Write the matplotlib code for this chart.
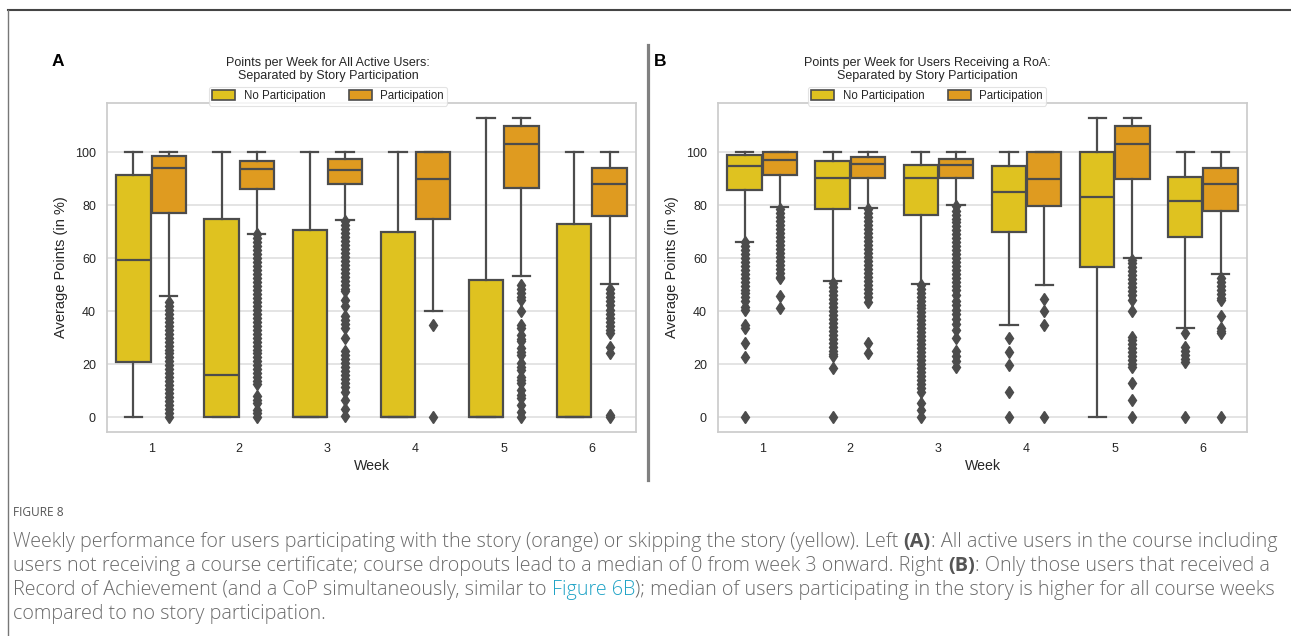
import matplotlib
matplotlib.use("Agg")
import matplotlib.pyplot as plt
from matplotlib.patches import Patch
from matplotlib.lines import Line2D

plt.rcParams['font.family'] = ['Liberation Sans', 'DejaVu Sans']

WEEKS = ["1", "2", "3", "4", "5", "6"]
GROUPS = ["No Participation", "Participation"]

# Panel A: all active users, no story participation
A_NO_LOW = [0, 0, 0, 0, 0, 0]
A_NO_Q1 = [20.9, 0, 0, 0, 0, 0]
A_NO_MED = [59.5, 15.8, 0, 0, 0, 0]
A_NO_Q3 = [91.4, 75.0, 70.5, 69.8, 51.6, 73.0]
A_NO_HIGH = [100, 100, 100, 100, 113, 100]
A_NO_OUT = [[], [], [], [], [], []]

# Panel A: all active users, story participation
A_PA_LOW = [45.6, 69.3, 74.4, 40.0, 53.4, 50.3]
A_PA_Q1 = [76.9, 86.0, 88.1, 75.0, 86.6, 75.9]
A_PA_MED = [94.2, 93.8, 93.4, 89.8, 103.3, 87.9]
A_PA_Q3 = [98.6, 96.7, 97.6, 100, 110.0, 93.9]
A_PA_HIGH = [100, 100, 100, 100, 113, 100]
A_PA_OUT = [
    [43.5, 42, 40.5, 39, 37.5, 36, 34.5, 33, 31.5, 30, 28.5, 27, 25.5, 24, 22.5,
     21, 19.5, 18, 16.5, 15, 13.5, 12, 10.5, 9, 7.5, 6, 4.5, 3, 1.5, 0],
    [69, 67.5, 66, 64.5, 63, 61.5, 60, 58.5, 57, 55.5, 54, 52.5, 51, 49.5, 48,
     46.5, 45, 43.5, 42, 40.5, 39, 37.5, 36, 34.5, 33, 31.5, 30, 28.5, 27, 25.5,
     24, 22.5, 21, 19.5, 18, 16.5, 15, 13.5, 12.5, 7.9, 6.5, 5.3, 2.8, 1.5, 0],
    [74, 72.5, 71, 69.5, 68, 66.5, 65, 63.5, 62, 60.5, 59, 57.5, 56, 54.5, 53,
     51.5, 50, 48.5, 47.5, 44.3, 41.8, 38, 36.5, 35, 33.5, 29.7, 24.8, 23.3,
     21.8, 20.3, 18.8, 17.3, 15.8, 14.3, 12.8, 11.2, 9.6, 6.5, 3, 0.5],
    [34.8, 0],
    [50, 48.5, 47, 45.5, 44.3, 39.9, 34.6, 33.6, 31.1, 29.5, 28.6, 26, 24.5,
     23.5, 20.3, 19, 17.8, 15.3, 14, 12.8, 10.2, 8.5, 7, 4.6, 2, 0],
    [48.5, 47, 45.5, 44, 42.5, 40.5, 39, 37.5, 36, 34.5, 33, 31.6, 26.6, 24.1,
     0.6, 0],
]

# Panel B: users receiving a RoA, no story participation
B_NO_LOW = [66.2, 51.3, 50.3, 34.7, 0, 33.8]
B_NO_Q1 = [85.7, 78.7, 76.5, 69.8, 56.7, 67.9]
B_NO_MED = [94.8, 90.4, 90.4, 85.0, 83.3, 81.8]
B_NO_Q3 = [98.9, 96.6, 95.2, 95.0, 100, 90.8]
B_NO_HIGH = [100, 100, 100, 100, 113, 100]
B_NO_OUT = [
    [66, 64.5, 63, 61.5, 60, 58.5, 57, 55.5, 54, 52.5, 51, 49.5, 48, 47, 45.4,
     44, 41.5, 40.4, 34.6, 33.5, 28, 22.5, 0],
    [50.6, 49, 47.5, 46, 44.5, 43, 41.5, 40, 38.5, 37, 35.5, 34, 32.5, 31, 29.5,
     28, 26.5, 25, 23.8, 22.9, 18.4, 0],
    [50, 48.5, 47, 45.5, 44, 42.5, 41, 39.5, 38, 36.5, 35, 33.5, 32, 30.5, 29,
     27.5, 26, 24.5, 23, 21.5, 20, 18.5, 17, 15.5, 14, 12.5, 11, 9.5, 5.2, 2.7, 0],
    [29.8, 24.7, 19.7, 9.6, 0],
    [],
    [31.9, 26.6, 25, 23.5, 22, 20.9, 0],
]

# Panel B: users receiving a RoA, story participation
B_PA_LOW = [79.3, 78.9, 80.2, 50.0, 60.1, 54.0]
B_PA_Q1 = [91.4, 90.4, 90.4, 79.7, 89.8, 77.8]
B_PA_MED = [97.0, 95.5, 95.3, 89.8, 103.3, 87.9]
B_PA_Q3 = [100, 98.4, 97.6, 100, 110.0, 93.9]
B_PA_HIGH = [100, 100, 100, 100, 113, 100]
B_PA_OUT = [
    [78.6, 77, 75.5, 74, 72.5, 71, 69.5, 68, 66.5, 65, 63.5, 62, 60.5, 59, 57.5,
     56, 54.5, 53, 52.4, 45.9, 41.2],
    [78.5, 77, 75.5, 74, 72.5, 71, 69.5, 68, 66.5, 65, 63.5, 62, 60.5, 59, 57.5,
     56, 54.5, 53, 51.5, 50, 48.5, 47, 45.5, 43.6, 28, 24.3],
    [79.7, 78, 76.5, 75, 73.5, 72, 70.5, 69, 67.5, 66, 64.5, 63, 61.5, 60, 58.5,
     57, 55.5, 54, 52.5, 51, 49.5, 48, 46, 44, 42.5, 40.5, 39, 37, 35, 33, 29.7,
     24.8, 23, 21, 19],
    [44.7, 39.9, 34.6, 0],
    [59.5, 58, 56.5, 55, 53.5, 52, 50.5, 49, 47.5, 46, 44.3, 39.9, 30.4, 29,
     27.5, 26, 24.5, 23, 21.5, 20, 19, 13, 6.4, 0],
    [52.5, 51, 49.5, 48, 46.5, 45, 44.3, 38, 33.6, 32.5, 31.7, 0],
]

YELLOW = "#dfc220"
ORANGE = "#df9b20"
GRAY = "#4c4c4c"
TEXT = "#262626"


def make_stats(low, q1, med, q3, high, out):
    stats = []
    for i in range(len(low)):
        stats.append({"whislo": low[i], "q1": q1[i], "med": med[i], "q3": q3[i],
                      "whishi": high[i], "fliers": out[i]})
    return stats


def draw_group(ax, stats, offset, color):
    positions = [i + offset for i in range(len(stats))]
    ax.bxp(stats, positions=positions, widths=0.39, patch_artist=True,
           showfliers=True, manage_ticks=False,
           boxprops=dict(facecolor=color, edgecolor=GRAY, linewidth=1.6),
           whiskerprops=dict(color=GRAY, linewidth=1.6),
           capprops=dict(color=GRAY, linewidth=1.6),
           medianprops=dict(color=GRAY, linewidth=1.6),
           flierprops=dict(marker="d", markerfacecolor=GRAY, markeredgecolor=GRAY,
                           markersize=6, linestyle="none"))


fig = plt.figure(figsize=(12.91, 6.36), dpi=100)

panels = [
    ("A", [0.0829, 0.3208, 0.4097, 0.5173], 0.418,
     "Points per Week for All Active Users:\nSeparated by Story Participation",
     make_stats(A_NO_LOW, A_NO_Q1, A_NO_MED, A_NO_Q3, A_NO_HIGH, A_NO_OUT),
     make_stats(A_PA_LOW, A_PA_Q1, A_PA_MED, A_PA_Q3, A_PA_HIGH, A_PA_OUT),
     52 / 1291),
    ("B", [0.5562, 0.3208, 0.4097, 0.5173], 0.395,
     "Points per Week for Users Receiving a RoA:\nSeparated by Story Participation",
     make_stats(B_NO_LOW, B_NO_Q1, B_NO_MED, B_NO_Q3, B_NO_HIGH, B_NO_OUT),
     make_stats(B_PA_LOW, B_PA_Q1, B_PA_MED, B_PA_Q3, B_PA_HIGH, B_PA_OUT),
     654 / 1291),
]

for letter, rect, cx, title, no_stats, pa_stats, lx in panels:
    ax = fig.add_axes(rect)
    ax.set_axisbelow(True)
    ax.yaxis.grid(True, color="#dddddd", linewidth=1.1)
    for s in ax.spines.values():
        s.set_color("#cccccc")
        s.set_linewidth(1.25)
    draw_group(ax, no_stats, -0.2, YELLOW)
    draw_group(ax, pa_stats, 0.2, ORANGE)
    ax.set_xlim(-0.5, len(WEEKS) - 0.5)
    ax.set_ylim(-5.65, 118.65)
    ax.set_xticks(range(len(WEEKS)))
    ax.set_xticklabels(WEEKS)
    ax.set_yticks([0, 20, 40, 60, 80, 100])
    ax.tick_params(length=0, pad=8, labelsize=9, labelcolor=TEXT)
    ax.set_xlabel("Week", fontsize=10.2, color=TEXT, labelpad=3)
    ax.set_ylabel("Average Points (in %)", fontsize=10.5, color=TEXT, labelpad=5)
    ax.text(cx, 1.101, title, transform=ax.transAxes, ha="center", va="center",
            fontsize=9, color=TEXT, linespacing=1.1)
    handles = [Patch(facecolor=YELLOW, edgecolor=GRAY, linewidth=1.2),
               Patch(facecolor=ORANGE, edgecolor=GRAY, linewidth=1.2)]
    leg = ax.legend(handles, GROUPS, loc="center", bbox_to_anchor=(cx, 1.021),
                    ncol=2, fontsize=8.3, frameon=True, handlelength=2.0,
                    handleheight=0.85, handletextpad=0.75, columnspacing=2.0,
                    borderpad=0.3, fancybox=True)
    leg.get_frame().set_edgecolor("#dddddd")
    leg.get_frame().set_linewidth(0.8)
    for t in leg.get_texts():
        t.set_color(TEXT)
    fig.text(lx, 1 - 61 / 636, letter, fontsize=12.5, fontweight="bold",
             color="black", va="center", ha="left")

# frame and separator
W, H = 1291, 636
fig.add_artist(Line2D([8 / W, 1], [1 - 10 / H, 1 - 10 / H], transform=fig.transFigure,
                      color="#444444", linewidth=1.5))
fig.add_artist(Line2D([8 / W, 8 / W], [0, 1 - 10 / H], transform=fig.transFigure,
                      color="#777777", linewidth=1.0))
fig.add_artist(Line2D([648 / W, 648 / W], [1 - 45 / H, 1 - 480 / H],
                      transform=fig.transFigure, color="#808080", linewidth=2.3))

# caption
renderer = fig.canvas.get_renderer()
CAP_FONT = ['Open Sans', 'DejaVu Sans']
CAP_COLOR = "#6a6a6a"
caption_lines = [
    [("Weekly performance for users participating with the story (orange) or skipping the story (yellow). Left ", "n"),
     ("(A)", "b"), (": All active users in the course including", "n")],
    [("users not receiving a course certificate; course dropouts lead to a median of 0 from week 3 onward. Right ", "n"),
     ("(B)", "b"), (": Only those users that received a", "n")],
    [("Record of Achievement (and a CoP simultaneously, similar to ", "n"), ("Figure 6B", "l"),
     ("); median of users participating in the story is higher for all course weeks", "n")],
    [("compared to no story participation.", "n")],
]


def style_kw(kind, size):
    kw = dict(fontsize=size, family=CAP_FONT, color=CAP_COLOR, fontweight="light")
    if kind == "b":
        kw["fontweight"] = "bold"
        kw["color"] = "#555555"
    if kind == "l":
        kw["color"] = "#1fa3c6"
    return kw


def run_width(text, kw):
    a = fig.text(0, 0, "x" + text + "x", **kw)
    b = fig.text(0, 0, "xx", **kw)
    w = a.get_window_extent(renderer).width - b.get_window_extent(renderer).width
    a.remove()
    b.remove()
    return w


# fit the first caption line to the width seen in the reference
base = 10.0
w1 = sum(run_width(t, style_kw(k, base)) for t, k in caption_lines[0])
cap_size = base * 1262 / w1

fig.text(13 / W, 1 - 513 / H, "FIGURE 8", family=CAP_FONT, fontsize=8.6,
         color="#555555", va="center", ha="left")

line_y = [542, 566, 590, 614]
for runs, yp in zip(caption_lines, line_y):
    x = 13.0
    for t, k in runs:
        kw = style_kw(k, cap_size)
        fig.text(x / W, 1 - yp / H, t, va="center", ha="left", **kw)
        x += run_width(t, kw)

fig.savefig("out.png", dpi=100)
